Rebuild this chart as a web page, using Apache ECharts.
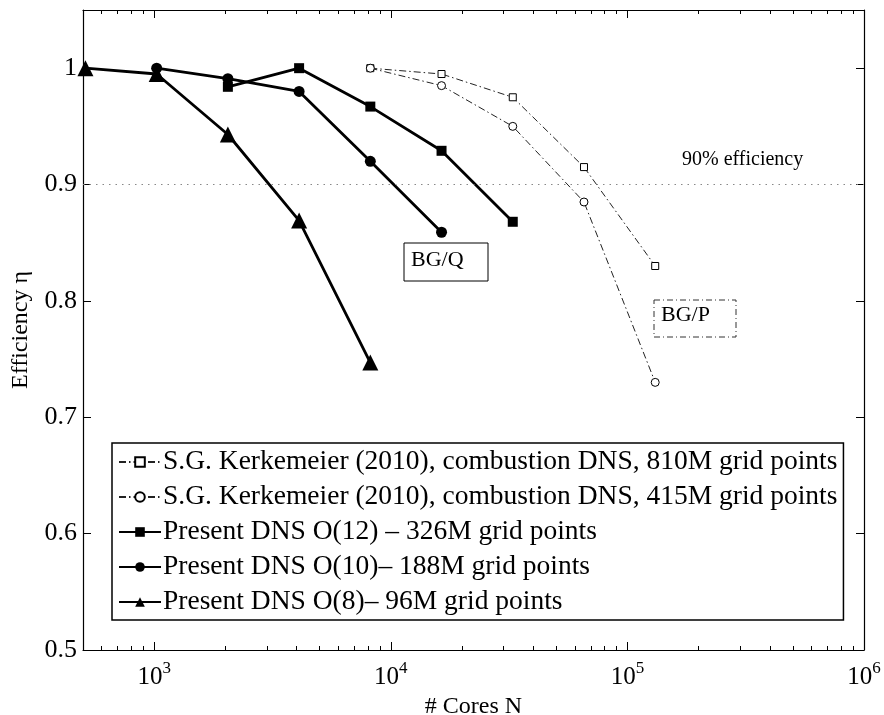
<!DOCTYPE html>
<html>
<head>
<meta charset="utf-8">
<script src="https://cdn.jsdelivr.net/npm/echarts@6/dist/echarts.min.js"></script>
<style>html,body{margin:0;padding:0;background:#fff}#c{width:884px;height:715px}</style>
</head>
<body>
<div id="c"></div>
<script>
// ---- data ----
var coresO8 = [512, 1024, 2048, 4096, 8192];
var effO8 = [1.0, 0.995, 0.943, 0.869, 0.747];
var coresO10 = [1024, 2048, 4096, 8192, 16384];
var effO10 = [1.0, 0.991, 0.980, 0.920, 0.859];
var coresO12 = [2048, 4096, 8192, 16384, 32768];
var effO12 = [0.984, 1.0, 0.967, 0.929, 0.868];
var coresK = [8192, 16384, 32768, 65536, 131072];
var effK810 = [1.0, 0.995, 0.975, 0.915, 0.830];
var effK415 = [1.0, 0.985, 0.950, 0.885, 0.730];
var seriesNames = [
  'S.G. Kerkemeier (2010), combustion DNS, 810M grid points',
  'S.G. Kerkemeier (2010), combustion DNS, 415M grid points',
  'Present DNS O(12) \u2013 326M grid points',
  'Present DNS O(10)\u2013 188M grid points',
  'Present DNS O(8)\u2013 96M grid points'
];
var xMajorTicks = [1e3, 1e4, 1e5, 1e6];
var xMinorTicks = [600, 700, 800, 900, 2000, 3000, 4000, 5000, 6000, 7000, 8000, 9000,
  20000, 30000, 40000, 50000, 60000, 70000, 80000, 90000,
  200000, 300000, 400000, 500000, 600000, 700000, 800000, 900000];
var yTicks = [0.5, 0.6, 0.7, 0.8, 0.9, 1.0];
var efficiencyRef = 0.9;

function pairs(xs, ys) { return xs.map(function (x, i) { return [x, ys[i]]; }); }

var FONT = 'Liberation Serif';
var chart = echarts.init(document.getElementById('c'), null, {renderer: 'canvas'});

function xAxisBase(pos, major, showLine, showLabel) {
  return {
    type: 'log', logBase: 10, min: 500, max: 1e6, position: pos,
    axisLine: {show: showLine, lineStyle: {color: '#000', width: 1.2}},
    axisTick: {show: true, inside: true, length: major ? 8 : 4,
      customValues: major ? xMajorTicks : xMinorTicks,
      lineStyle: {color: '#000', width: 1}},
    axisLabel: showLabel ? {
      show: true, customValues: xMajorTicks, margin: 10,
      formatter: function (v) { return '{a|10}{b|' + Math.round(Math.log10(v)) + '}'; },
      rich: {
        a: {fontFamily: FONT, fontSize: 25, color: '#000'},
        b: {fontFamily: FONT, fontSize: 17, color: '#000', padding: [0, 0, 18, 0]}
      }
    } : {show: false},
    splitLine: {show: false}, minorTick: {show: false}
  };
}

var xAxes = [xAxisBase('bottom', true, true, true), xAxisBase('bottom', false, false, false),
  xAxisBase('top', true, true, false), xAxisBase('top', false, false, false)];
xAxes[0].name = '# Cores N';
xAxes[0].nameLocation = 'middle';
xAxes[0].nameGap = 36;
xAxes[0].nameTextStyle = {fontFamily: FONT, fontSize: 24, color: '#000'};

function yAxisBase(pos, showLabel) {
  return {
    type: 'value', min: 0.5, max: 1.05, interval: 0.1, position: pos,
    axisLine: {show: true, lineStyle: {color: '#000', width: 1.2}},
    axisTick: {show: true, inside: true, length: 8, customValues: yTicks, lineStyle: {color: '#000'}},
    axisLabel: showLabel ? {show: true, customValues: yTicks, margin: 6,
      fontFamily: FONT, fontSize: 26, color: '#000',
      formatter: function (v) { return String(Math.round(v * 10) / 10); }} : {show: false},
    splitLine: {show: false}
  };
}
var yAxes = [yAxisBase('left', true), yAxisBase('right', false)];
yAxes[0].name = 'Efficiency \u03b7';
yAxes[0].nameLocation = 'middle';
yAxes[0].nameGap = 50;
yAxes[0].nameTextStyle = {fontFamily: FONT, fontSize: 24, color: '#000'};

var dashDot = [7, 3, 1.5, 3];

var option = {
  backgroundColor: '#fff',
  animation: false,
  grid: {left: 83, right: 20, top: 10, bottom: 65, containLabel: false, outerBoundsMode: 'none'},
  xAxis: xAxes,
  yAxis: yAxes,
  legend: {
    orient: 'vertical', left: 112, top: 443,
    backgroundColor: '#fff', borderColor: '#000', borderWidth: 1.5,
    padding: [5, 6, 4, 6], itemGap: 7, itemWidth: 42, itemHeight: 12,
    textStyle: {fontFamily: FONT, fontSize: 27.5, color: '#000', padding: [0, 0, 0, -3]},
    data: seriesNames
  },
  series: [
    {
      name: seriesNames[0], type: 'line', data: pairs(coresK, effK810),
      symbol: 'rect', symbolSize: 7, z: 3,
      lineStyle: {color: '#222', width: 1, type: dashDot},
      itemStyle: {color: '#fff', borderColor: '#000', borderWidth: 1},
      markLine: {
        silent: true, symbol: 'none',
        lineStyle: {color: '#888', width: 1, type: [1.5, 5]},
        label: {show: false},
        data: [{yAxis: efficiencyRef}]
      }
    },
    {
      name: seriesNames[1], type: 'line', data: pairs(coresK, effK415),
      symbol: 'circle', symbolSize: 8, z: 3,
      lineStyle: {color: '#222', width: 1, type: dashDot},
      itemStyle: {color: '#fff', borderColor: '#000', borderWidth: 1}
    },
    {
      name: seriesNames[2], type: 'line', data: pairs(coresO12, effO12),
      symbol: 'rect', symbolSize: 10, z: 4,
      lineStyle: {color: '#000', width: 2.8},
      itemStyle: {color: '#000'}
    },
    {
      name: seriesNames[3], type: 'line', data: pairs(coresO10, effO10),
      symbol: 'circle', symbolSize: 11, z: 4,
      lineStyle: {color: '#000', width: 2.8},
      itemStyle: {color: '#000'}
    },
    {
      name: seriesNames[4], type: 'line', data: pairs(coresO8, effO8),
      symbol: 'triangle', symbolSize: 16, z: 4,
      lineStyle: {color: '#000', width: 2.8},
      itemStyle: {color: '#000'}
    }
  ],
  graphic: [
    {type: 'text', left: 682, top: 150, z: 10,
      style: {text: '90% efficiency', fontFamily: FONT, fontSize: 20, fill: '#000'}},
    {type: 'rect', shape: {x: 404, y: 243, width: 84, height: 38}, z: 10,
      style: {fill: '#fff', stroke: '#000', lineWidth: 1}},
    {type: 'text', left: 411, top: 249, z: 11,
      style: {text: 'BG/Q', fontFamily: FONT, fontSize: 22, fill: '#000'}},
    {type: 'rect', shape: {x: 654, y: 300, width: 82, height: 37}, z: 10,
      style: {fill: 'none', stroke: '#333', lineWidth: 1, lineDash: [6, 3, 1, 3]}},
    {type: 'text', left: 661, top: 304, z: 11,
      style: {text: 'BG/P', fontFamily: FONT, fontSize: 22, fill: '#000'}}
  ]
};
chart.setOption(option);
</script>
</body>
</html>
